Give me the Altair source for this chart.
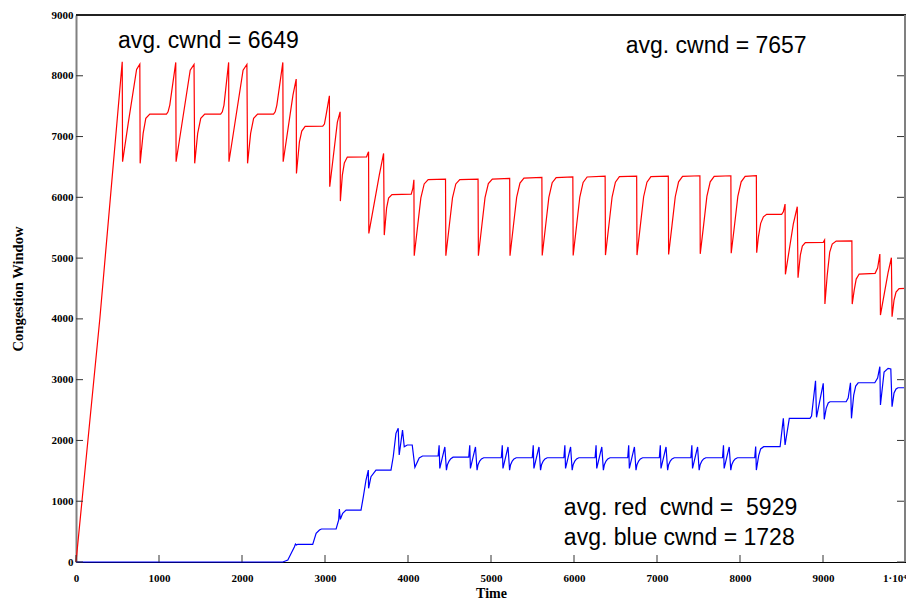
import altair as alt
import pandas as pd

# ---- red flow (congestion window over time) ----
red_time = [0, 288, 557, 561, 629, 730, 769, 773, 809, 841, 889, 1090, 1109, 1130, 1202,
            1206, 1376, 1422, 1430, 1466, 1503, 1551, 1743, 1763, 1783, 1839,
            1843, 2013, 2059, 2067, 2104, 2140, 2188, 2380, 2400, 2420, 2492,
            2496, 2614, 2653, 2656, 2692, 2720, 2761, 2973, 2993, 3013, 3053,
            3057, 3149, 3182, 3185, 3209, 3233, 3269, 3501, 3518, 3525,
            3528, 3654, 3706, 3714, 3742, 3766, 3807, 4039, 4059, 4071,
            4075, 4115, 4155, 4195, 4243, 4452,
            4456, 4496, 4536, 4576, 4624, 4844,
            4848, 4888, 4928, 4968, 5016, 5225,
            5229, 5269, 5309, 5349, 5397, 5613,
            5617, 5657, 5697, 5737, 5785, 5986,
            5990, 6030, 6070, 6110, 6158, 6375,
            6379, 6419, 6459, 6499, 6547, 6755,
            6759, 6799, 6839, 6879, 6927, 7136,
            7140, 7180, 7220, 7260, 7308, 7517,
            7521, 7561, 7601, 7641, 7689, 7890,
            7894, 7934, 7974, 8014, 8062, 8197,
            8201, 8222, 8249, 8282, 8321, 8502, 8522, 8543,
            8547, 8642, 8690, 8699, 8727, 8751, 8787, 9003, 9019,
            9023, 9051, 9081, 9111, 9159, 9348,
            9352, 9376, 9400, 9436, 9628, 9658, 9685,
            9692, 9784, 9824, 9832, 9856, 9880, 9917, 10000]
red_cwnd = [0, 4014, 8230, 6585, 7217, 8105, 8192, 6559, 7052, 7299, 7370, 7370, 7407, 7518, 8220,
            6585, 8093, 8187, 6559, 7052, 7299, 7370, 7370, 7407, 7518, 8220,
            6585, 8093, 8187, 6559, 7052, 7299, 7370, 7370, 7407, 7518, 8220,
            6585, 7682, 7945, 6394, 6914, 7090, 7167, 7172, 7205, 7353, 7671,
            6174, 7238, 7407, 5938, 6366, 6564, 6662, 6667, 6728, 6750,
            5407, 6366, 6723, 5379, 5823, 5988, 6045, 6054, 6152, 6289,
            5039, 5516, 5990, 6220, 6290, 6300,
            5039, 5516, 5990, 6220, 6290, 6300,
            5039, 5516, 5995, 6225, 6300, 6312,
            5039, 5520, 6000, 6235, 6315, 6328,
            5045, 5520, 6000, 6240, 6325, 6338,
            5045, 5525, 6005, 6245, 6335, 6350,
            5050, 5525, 6005, 6250, 6340, 6350,
            5050, 5530, 6010, 6250, 6340, 6350,
            5060, 5530, 6010, 6255, 6345, 6355,
            5070, 5535, 6015, 6255, 6345, 6355,
            5080, 5540, 6015, 6255, 6345, 6355,
            5088, 5351, 5572, 5680, 5720, 5720, 5762, 5889,
            4733, 5560, 5845, 4677, 5050, 5198, 5256, 5259, 5297,
            4244, 4721, 5100, 5231, 5280, 5285,
            4244, 4474, 4655, 4738, 4749, 4836, 5067,
            4063, 4760, 5006, 4035, 4310, 4442, 4499, 4502]

# ---- blue flow ----
blue_time = [0, 2492, 2552, 2593, 2632, 2644, 2656, 2672, 2852, 2893, 2933, 2957, 3134,
             3165, 3173, 3185, 3213, 3254, 3434, 3462, 3494, 3522, 3525, 3554, 3614, 3795,
             3822, 3855, 3882, 3894, 3934, 3955, 3991, 4051, 4083, 4135, 4175,
             4363, 4375, 4383, 4444, 4463, 4475, 4495, 4516, 4543,
             4732, 4744, 4752, 4813, 4832, 4844, 4864, 4885, 4912,
             5124, 5136, 5144, 5205, 5224, 5236, 5256, 5277, 5304,
             5497, 5509, 5517, 5578, 5597, 5609, 5629, 5650, 5677,
             5878, 5890, 5898, 5959, 5978, 5990, 6010, 6031, 6058,
             6254, 6266, 6274, 6335, 6354, 6366, 6386, 6407, 6434,
             6647, 6659, 6667, 6728, 6747, 6759, 6779, 6800, 6827,
             7028, 7040, 7048, 7109, 7128, 7140, 7160, 7181, 7208,
             7408, 7420, 7428, 7489, 7508, 7520, 7540, 7561, 7588,
             7789, 7801, 7809, 7870, 7889, 7901, 7921, 7942, 7969,
             8177, 8189, 8197, 8225, 8249, 8285, 8483, 8522, 8543, 8594, 8642, 8843,
             8862, 8910, 8922, 9003, 9015, 9039, 9063, 9084, 9279, 9303, 9331, 9343,
             9370, 9394, 9424, 9624, 9658, 9685, 9692, 9736, 9784, 9817, 9832,
             9856, 9880, 9904, 10000]
blue_cwnd = [0, 0, 33, 143, 252, 296, 280, 291, 291, 472, 526, 543, 543,
             691, 872, 702, 801, 855, 855, 1074, 1349, 1513, 1212, 1403, 1513, 1513,
             1732, 2117, 2199, 1760, 2171, 1897, 1925, 1925, 1558, 1711, 1744,
             1744, 1921, 1540, 1893, 1510, 1600, 1660, 1700, 1725,
             1725, 1921, 1540, 1893, 1510, 1600, 1660, 1695, 1715,
             1715, 1921, 1540, 1893, 1510, 1600, 1660, 1695, 1715,
             1715, 1921, 1540, 1893, 1510, 1600, 1660, 1695, 1715,
             1715, 1921, 1540, 1893, 1510, 1600, 1660, 1695, 1715,
             1715, 1921, 1540, 1893, 1510, 1600, 1660, 1695, 1715,
             1715, 1921, 1540, 1893, 1510, 1600, 1660, 1695, 1715,
             1715, 1921, 1540, 1893, 1510, 1600, 1660, 1695, 1715,
             1715, 1921, 1540, 1893, 1510, 1600, 1660, 1695, 1715,
             1715, 1921, 1540, 1893, 1510, 1600, 1660, 1695, 1715,
             1715, 1900, 1513, 1750, 1860, 1897, 1897, 2364, 1925, 2364, 2364, 2364,
             2402, 2982, 2380, 2940, 2347, 2533, 2616, 2637, 2637, 2698, 2949, 2364,
             2747, 2895, 2949, 2949, 3027, 3213, 2583, 3126, 3186, 3175, 2555,
             2780, 2846, 2867, 2867]

x_ticks = [0, 1000, 2000, 3000, 4000, 5000, 6000, 7000, 8000, 9000, 10000]
y_ticks = [0, 1000, 2000, 3000, 4000, 5000, 6000, 7000, 8000, 9000]

note_text = ["avg. cwnd = 6649", "avg. cwnd = 7657",
             "avg. red\u00a0 cwnd =\u00a0 5929", "avg. blue cwnd = 1728"]
note_time = [505, 6623, 5878, 5878]
note_cwnd = [8455, 8373, 773, 280]

W, H = 830, 547
SERIF = "Liberation Serif"

xs = alt.Scale(domain=[0, 10000], nice=False, zero=False)
ys = alt.Scale(domain=[0, 9000], nice=False, zero=False)

x_axis = alt.Axis(
    values=x_ticks, title="Time", grid=False, ticks=False,
    labelExpr="datum.value == 10000 ? '1\u00b710\u2074' : datum.label",
    labelAlign={"condition": {"test": "datum.value == 10000", "value": "right"}, "value": "center"},
    format="d",
    labelFont=SERIF, labelFontWeight="bold", labelFontSize=11, labelColor="black",
    labelPadding=10, labelFlush=False, labelOverlap=False,
    domainColor="black", domainWidth=1,
    titleFont=SERIF, titleFontWeight="bold", titleFontSize=14, titleColor="black",
    titlePadding=3,
)
y_axis = alt.Axis(
    values=y_ticks, title="Congestion Window", grid=False, ticks=False,
    format="d",
    labelFont=SERIF, labelFontWeight="bold", labelFontSize=11, labelColor="black",
    labelPadding=3, labelFlush=False, labelOverlap=False,
    domainColor="#808080", domainWidth=2,
    titleFont=SERIF, titleFontWeight="bold", titleFontSize=14.5, titleColor="black",
    titlePadding=26,
)

red_df = pd.DataFrame({"Time": red_time, "cwnd": red_cwnd})
blue_df = pd.DataFrame({"Time": blue_time, "cwnd": blue_cwnd})
notes_df = pd.DataFrame({"Time": note_time, "cwnd": note_cwnd, "label": note_text})
xt_df = pd.DataFrame({"v": x_ticks})
yt_df = pd.DataFrame({"v": y_ticks})

red_line = alt.Chart(red_df).mark_line(color="#ff0000", strokeWidth=1.2).encode(
    x=alt.X("Time:Q", scale=xs, axis=x_axis),
    y=alt.Y("cwnd:Q", scale=ys, axis=y_axis),
)
blue_line = alt.Chart(blue_df).mark_line(color="#0000ff", strokeWidth=1.2).encode(
    x=alt.X("Time:Q"), y=alt.Y("cwnd:Q"))

notes = alt.Chart(notes_df).mark_text(
    align="left", baseline="alphabetic", font="Liberation Sans", fontSize=23, color="black"
).encode(x=alt.X("Time:Q"), y=alt.Y("cwnd:Q"), text="label:N")

xtick_rules = alt.Chart(xt_df).mark_rule(color="#333333", strokeWidth=1).encode(
    x=alt.X("v:Q"), y=alt.value(H), y2=alt.value(H - 7))
ytick_left = alt.Chart(yt_df).mark_rule(color="#333333", strokeWidth=1).encode(
    y=alt.Y("v:Q"), x=alt.value(0), x2=alt.value(7))
ytick_right = alt.Chart(yt_df).mark_rule(color="#333333", strokeWidth=1).encode(
    y=alt.Y("v:Q"), x=alt.value(W - 9), x2=alt.value(W - 1))

top_border = alt.Chart(xt_df).mark_rule(color="#222222", strokeWidth=1.5).encode(y=alt.value(0))
right_border = alt.Chart(xt_df).mark_rule(color="#808080", strokeWidth=2).encode(x=alt.value(W - 1))

chart = alt.layer(
    red_line, blue_line, notes,
    xtick_rules, ytick_left, ytick_right, top_border, right_border,
).properties(
    width=W, height=H,
    autosize=alt.AutoSizeParams(type="none"),
    padding={"left": 68, "top": 7, "right": 0, "bottom": 40},
).configure_view(stroke=None)

chart.save("out.html", embed_options={"renderer": "svg", "actions": False})
